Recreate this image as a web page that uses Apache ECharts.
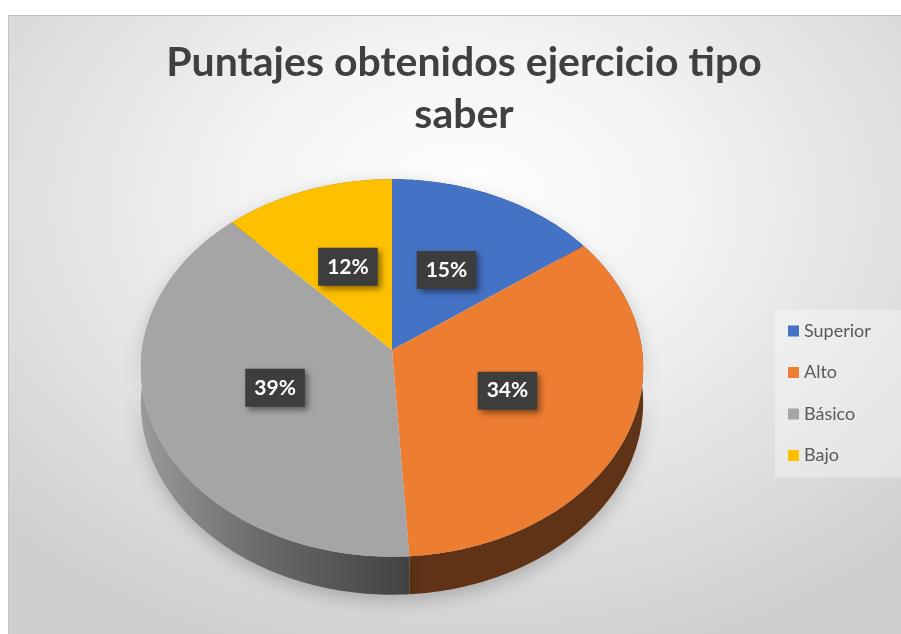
<!DOCTYPE html>
<html>
<head>
<meta charset="utf-8">
<script src="https://cdn.jsdelivr.net/npm/echarts@6/dist/echarts.min.js"></script>
<style>
  html, body { margin: 0; padding: 0; background: #fff; overflow: hidden; }
  #box {
    position: absolute; left: 8px; top: 15px; width: 910px; height: 625px;
    border-top: 1px solid #bdbdbd; border-left: 1px solid #c4c4c4;
    background: radial-gradient(ellipse 70% 75% at 50% 30%, #ffffff 0%, #f3f3f3 35%, #cfcfcf 100%);
  }
  #chart { width: 910px; height: 625px; }
</style>
</head>
<body>
<div id="box"><div id="chart"></div></div>
<script>
// datos del grafico
const categories = ["Superior", "Alto", "Básico", "Bajo"];
const values = [15, 34, 39, 12];
const topColors = ["#4472c4", "#ed7d31", "#a5a5a5", "#ffc000"];
const sideColors = ["#26406e", "#603316", "#5a5a5a", "#8f6b00"];

// geometria de la torta 3D (perspectiva simple)
const CX = 383, CY = 334, RX = 250, RY = 187, K = 0.0952, DEPTH = 34.4;

function proj(theta, r) {
  const u = r * Math.sin(theta);
  const v = -r * Math.cos(theta);
  const d = 1 - K * v;
  return [CX + (RX * u) / d, CY + (RY * v) / d, d];
}

function sliceRange(i) {
  const total = values.reduce((a, b) => a + b, 0);
  let before = 0;
  for (let j = 0; j < i; j++) before += values[j];
  const a0 = (before / total) * Math.PI * 2;
  const a1 = ((before + values[i]) / total) * Math.PI * 2;
  return [a0, a1];
}

function arc(a0, a1) {
  const pts = [];
  const n = Math.max(4, Math.ceil(((a1 - a0) * 180) / Math.PI));
  for (let s = 0; s <= n; s++) pts.push(proj(a0 + ((a1 - a0) * s) / n, 1));
  return pts;
}

const sideSeries = {
  type: "custom",
  name: "lado",
  coordinateSystem: "none",
  silent: true,
  z: 2,
  data: values,
  renderItem: function (params, api) {
    const i = params.dataIndex;
    const [a0, a1] = sliceRange(i);
    const top = arc(a0, a1);
    const bottom = top
      .map((p) => [p[0], p[1] + DEPTH / p[2]])
      .reverse();
    const pts = top.map((p) => [p[0], p[1]]).concat(bottom);
    let fill = sideColors[i];
    if (i === 2) {
      fill = new echarts.graphic.LinearGradient(0, 0, 1, 0, [
        { offset: 0, color: "#9a9a9a" },
        { offset: 0.45, color: "#6a6a6a" },
        { offset: 1, color: "#424242" },
      ]);
    }
    return {
      type: "polygon",
      shape: { points: pts },
      style: {
        fill: fill,
        shadowColor: "rgba(0,0,0,0.22)",
        shadowBlur: 18,
        shadowOffsetY: 6,
      },
    };
  },
};

const topSeries = categories.map(function (name, i) {
  return {
    type: "custom",
    name: name,
    coordinateSystem: "none",
    silent: true,
    z: 3,
    itemStyle: { color: topColors[i] },
    data: [values[i]],
    renderItem: function (params, api) {
      const [a0, a1] = sliceRange(i);
      const pts = [[CX, CY]].concat(arc(a0, a1).map((p) => [p[0], p[1]]));
      const lp = proj((a0 + a1) / 2, 0.5);
      return {
        type: "group",
        children: [
          {
            type: "polygon",
            shape: { points: pts },
            style: { fill: topColors[i] },
          },
          {
            type: "text",
            x: lp[0],
            y: lp[1],
            z2: 100,
            style: {
              text: api.value(0) + "%",
              fill: "#ffffff",
              font: "bold 21px Lato, sans-serif",
              align: "center",
              verticalAlign: "middle",
              backgroundColor: "#3d3d3d",
              padding: [9, 9, 8, 9],
              shadowColor: "rgba(0,0,0,0.45)",
              shadowBlur: 6,
              shadowOffsetX: 3,
              shadowOffsetY: 3,
            },
          },
        ],
      };
    },
  };
});

const chart = echarts.init(document.getElementById("chart"), null, { renderer: "canvas" });
chart.setOption({
  animation: false,
  title: {
    text: "Puntajes obtenidos ejercicio tipo\nsaber",
    left: "center",
    top: 16,
    textStyle: {
      fontFamily: "Lato",
      fontWeight: "bold",
      fontSize: 41,
      lineHeight: 52,
      color: "#404040",
    },
  },
  legend: {
    data: categories,
    orient: "vertical",
    left: 766,
    top: 294,
    icon: "rect",
    itemWidth: 11,
    itemHeight: 11,
    itemGap: 19.5,
    padding: [10, 40, 11, 13],
    backgroundColor: "rgba(255,255,255,0.35)",
    textStyle: { fontFamily: "Lato", fontSize: 18, color: "#595959", lineHeight: 22 },
  },
  series: [sideSeries].concat(topSeries),
});
</script>
</body>
</html>
